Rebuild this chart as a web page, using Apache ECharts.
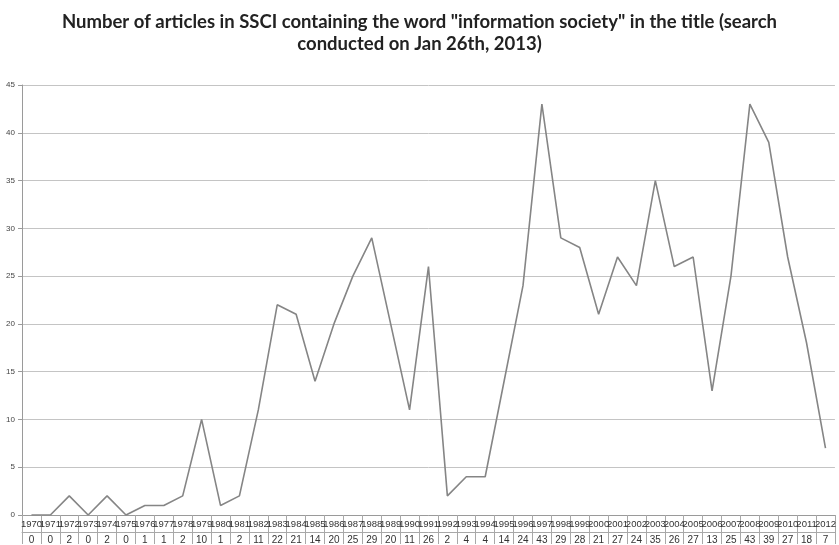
<!DOCTYPE html>
<html lang="en">
<head>
    <meta charset="UTF-8">
    <title>SSCI information society</title>
    <script src="https://cdn.jsdelivr.net/npm/echarts@6/dist/echarts.min.js"></script>
    <style>
        html, body { margin: 0; padding: 0; background: #fff; }
    </style>
</head>
<body>
<div id="main" style="width: 839px;height:545px;"></div>
<script type="text/javascript">
    // data
    var years = ['1970', '1971', '1972', '1973', '1974', '1975', '1976', '1977', '1978', '1979',
        '1980', '1981', '1982', '1983', '1984', '1985', '1986', '1987', '1988', '1989',
        '1990', '1991', '1992', '1993', '1994', '1995', '1996', '1997', '1998', '1999',
        '2000', '2001', '2002', '2003', '2004', '2005', '2006', '2007', '2008', '2009',
        '2010', '2011', '2012'];
    var counts = [0, 0, 2, 0, 2, 0, 1, 1, 2, 10,
        1, 2, 11, 22, 21, 14, 20, 25, 29, 20,
        11, 26, 2, 4, 4, 14, 24, 43, 29, 28,
        21, 27, 24, 35, 26, 27, 13, 25, 43, 39,
        27, 18, 7];
    var yTicks = [0, 5, 10, 15, 20, 25, 30, 35, 40, 45];

    var chartDom = document.getElementById('main');
    var myChart = echarts.init(chartDom);
    var option;

    option = {
        animation: false,
        title: {
            text: 'Number of articles in SSCI containing the word "information society" in the title (search\nconducted on Jan 26th, 2013)',
            left: 'center',
            top: 6,
            textStyle: {
                fontFamily: 'Lato',
                fontWeight: 'bold',
                fontSize: 18.5,
                lineHeight: 22,
                color: '#222'
            }
        },
        grid: {
            left: 22,
            right: 0,
            top: 85,
            bottom: 29
        },
        xAxis: [
            {
                type: 'category',
                data: years,
                position: 'bottom',
                axisLine: { lineStyle: { color: '#9a9a9a', width: 1 } },
                axisTick: { show: true, interval: 0, length: 29, lineStyle: { color: '#a8a8a8' } },
                axisLabel: { interval: 0, fontSize: 9.5, color: '#333', margin: 4, fontFamily: 'Liberation Sans' }
            },
            {
                type: 'category',
                data: years,
                position: 'bottom',
                offset: 17,
                axisLine: { lineStyle: { color: '#a8a8a8', width: 1 } },
                axisTick: { show: false },
                axisLabel: {
                    interval: 0, fontSize: 10, color: '#333', margin: 3, fontFamily: 'Liberation Sans',
                    formatter: function (v, i) { return String(counts[i]); }
                }
            }
        ],
        yAxis: {
            type: 'value',
            min: yTicks[0],
            max: yTicks[yTicks.length - 1],
            interval: 5,
            axisLine: { show: true, lineStyle: { color: '#9a9a9a' } },
            axisTick: { show: true, length: 4, lineStyle: { color: '#9a9a9a' } },
            axisLabel: { fontSize: 8, color: '#444', margin: 7, fontFamily: 'Liberation Sans' },
            splitLine: { lineStyle: { color: '#c4c4c4', width: 1 } }
        },
        series: [
            {
                type: 'line',
                data: counts,
                xAxisIndex: 0,
                symbol: 'none',
                lineStyle: { color: '#858585', width: 1.6 }
            }
        ]
    };

    option && myChart.setOption(option);
</script>
</body>
</html>
